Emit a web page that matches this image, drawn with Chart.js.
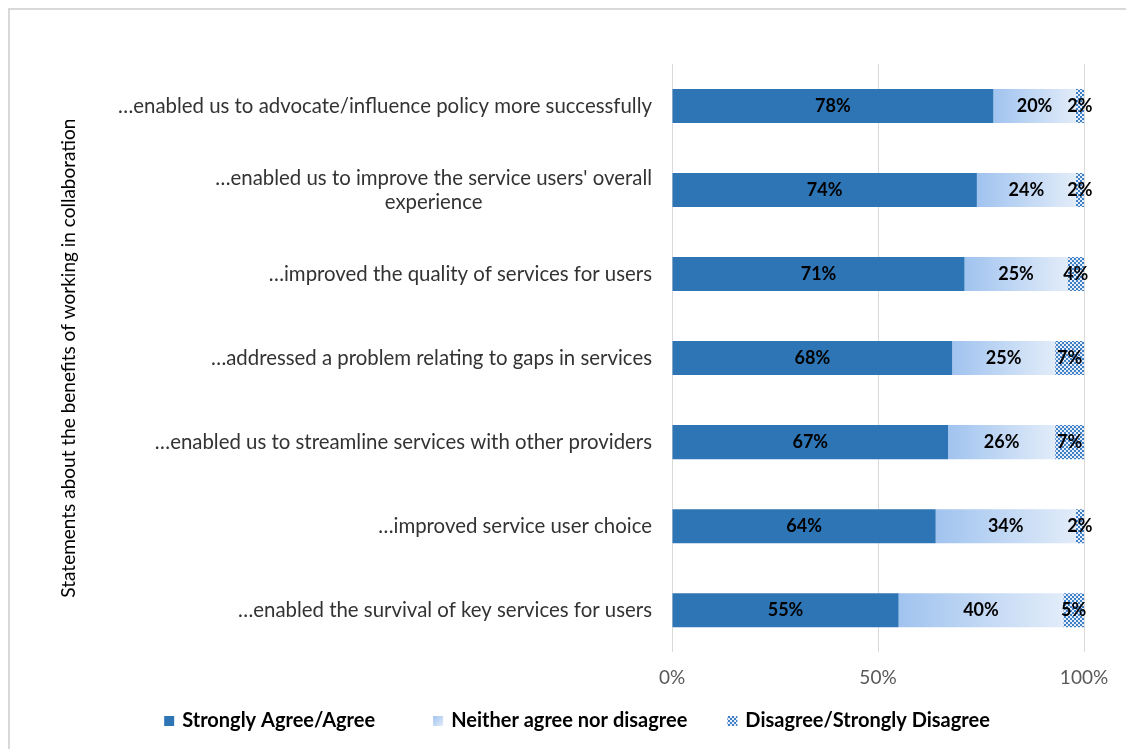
<!DOCTYPE html>
<html>
<head>
<meta charset="utf-8">
<script src="https://cdn.jsdelivr.net/npm/chart.js@4.4.0/dist/chart.umd.min.js"></script>
<style>
  html, body { margin: 0; padding: 0; background: #fff; overflow: hidden; }
  #frame { position: absolute; left: 8px; top: 8px; width: 1116px; height: 739px;
           border-left: 2px solid #d9d9d9; border-top: 2px solid #d9d9d9; }
  #wrap { position: absolute; left: 0; top: 0; width: 1126px; height: 749px; }
</style>
</head>
<body>
<div id="frame"></div>
<div id="wrap"><canvas id="myChart"></canvas></div>
<script>
// statements (y axis) and answer shares in percent
const categories = [
  '…enabled us to advocate/influence policy more successfully',
  ["…enabled us to improve the service users' overall", 'experience'],
  '…improved the quality of services for users',
  '…addressed a problem relating to gaps in services',
  '…enabled us to streamline services with other providers',
  '…improved service user choice',
  '…enabled the survival of key services for users'
];
const agree = [78, 74, 71, 68, 67, 64, 55];
const neutral = [20, 24, 25, 25, 26, 34, 40];
const disagree = [2, 2, 4, 7, 7, 2, 5];
const seriesNames = ['Strongly Agree/Agree', 'Neither agree nor disagree', 'Disagree/Strongly Disagree'];

const FONT = 'Lato, "Open Sans", sans-serif';

document.addEventListener('DOMContentLoaded', function() {
  const ctx = document.getElementById('myChart').getContext('2d');

  // small blue/white checker used for the disagree bars
  const tile = document.createElement('canvas');
  tile.width = 4;
  tile.height = 4;
  const t = tile.getContext('2d');
  t.fillStyle = '#e6eefa';
  t.fillRect(0, 0, 4, 4);
  t.fillStyle = '#3f7fc6';
  t.fillRect(0, 0, 2, 2);
  t.fillRect(2, 2, 2, 2);
  const checker = ctx.createPattern(tile, 'repeat');

  function fade(c, x0, y0, x1, y1) {
    const g = c.createLinearGradient(x0, y0, x1, y1);
    g.addColorStop(0, '#a0c3ef');
    g.addColorStop(1, '#e2ecf9');
    return g;
  }

  // light blue left-to-right fade for the neutral bars
  function neutralFill(c) {
    const chart = c.chart;
    if (!chart.chartArea || c.dataIndex === undefined) return '#b8d2f2';
    const i = c.dataIndex;
    const x0 = chart.scales.x.getPixelForValue(agree[i]);
    const x1 = chart.scales.x.getPixelForValue(agree[i] + neutral[i]);
    return fade(chart.ctx, x0, 0, x1, 0);
  }

  // category labels: block right-aligned against the axis, wrapped lines centred
  const categoryLabels = {
    id: 'categoryLabels',
    afterDraw(chart) {
      const c = chart.ctx;
      const yScale = chart.scales.y;
      const right = chart.chartArea.left - 20;
      const lh = 24;
      c.save();
      c.font = '20.4px ' + FONT;
      c.fillStyle = '#333333';
      c.textAlign = 'center';
      c.textBaseline = 'middle';
      categories.forEach(function(label, i) {
        const lines = Array.isArray(label) ? label : [label];
        const w = Math.max.apply(null, lines.map(function(l) { return c.measureText(l).width; }));
        const cy = yScale.getPixelForValue(i);
        lines.forEach(function(line, k) {
          c.fillText(line, right - w / 2, cy + (k - (lines.length - 1) / 2) * lh);
        });
      });
      c.restore();
    }
  };

  // percentage written in the middle of every segment
  const valueLabels = {
    id: 'valueLabels',
    afterDatasetsDraw(chart) {
      const c = chart.ctx;
      c.save();
      c.font = 'bold 18px ' + FONT;
      c.fillStyle = '#000000';
      c.textAlign = 'center';
      c.textBaseline = 'middle';
      chart.data.datasets.forEach(function(ds, d) {
        chart.getDatasetMeta(d).data.forEach(function(bar, i) {
          const p = bar.getCenterPoint();
          c.fillText(ds.data[i] + '%', p.x, p.y);
        });
      });
      c.restore();
    }
  };

  // legend row under the axis, with wide gaps between entries
  const bottomLegend = {
    id: 'bottomLegend',
    afterDraw(chart) {
      const c = chart.ctx;
      const box = 10, gap = 8, spacing = [58, 40];
      const y = 721;
      c.save();
      c.font = 'bold 20px ' + FONT;
      c.textBaseline = 'middle';
      const widths = seriesNames.map(function(n) { return box + gap + c.measureText(n).width; });
      const total = widths.reduce(function(a, b) { return a + b; }, 0) + spacing[0] + spacing[1];
      let x = 577 - total / 2;
      chart.data.datasets.forEach(function(ds, d) {
        const bx = x, by = y - box / 2;
        c.fillStyle = d === 1 ? fade(c, bx, by, bx + box, by + box) : ds.backgroundColor;
        c.fillRect(bx, by, box, box);
        c.fillStyle = '#000000';
        c.fillText(ds.label, bx + box + gap, y);
        x += widths[d] + (spacing[d] || 0);
      });
      c.restore();
    }
  };

  new Chart(ctx, {
    type: 'bar',
    data: {
      labels: categories,
      datasets: [{
        label: seriesNames[0],
        data: agree,
        backgroundColor: '#2e75b6'
      }, {
        label: seriesNames[1],
        data: neutral,
        backgroundColor: neutralFill
      }, {
        label: seriesNames[2],
        data: disagree,
        backgroundColor: checker
      }]
    },
    options: {
      indexAxis: 'y',
      responsive: true,
      maintainAspectRatio: false,
      animation: false,
      layout: { padding: { top: 64, left: 47, right: 42, bottom: 46 } },
      datasets: {
        bar: { categoryPercentage: 1, barPercentage: 0.405, borderWidth: 0 }
      },
      scales: {
        x: {
          stacked: true,
          min: 0,
          max: 100,
          ticks: {
            stepSize: 50,
            padding: 14,
            color: '#595959',
            font: { family: FONT, size: 19 },
            callback: function(v) { return v + '%'; }
          },
          grid: { color: '#d9d9d9', drawTicks: false },
          border: { display: false }
        },
        y: {
          stacked: true,
          afterFit: function(scale) { scale.width = 625; },
          ticks: { display: false },
          grid: { display: false },
          border: { display: false },
          title: {
            display: true,
            text: 'Statements about the benefits of working in collaboration',
            color: '#000000',
            font: { family: FONT, size: 19 },
            padding: { top: 10, bottom: 0 }
          }
        }
      },
      plugins: {
        legend: { display: false },
        tooltip: { enabled: false }
      }
    },
    plugins: [categoryLabels, valueLabels, bottomLegend]
  });
});
</script>
</body>
</html>
